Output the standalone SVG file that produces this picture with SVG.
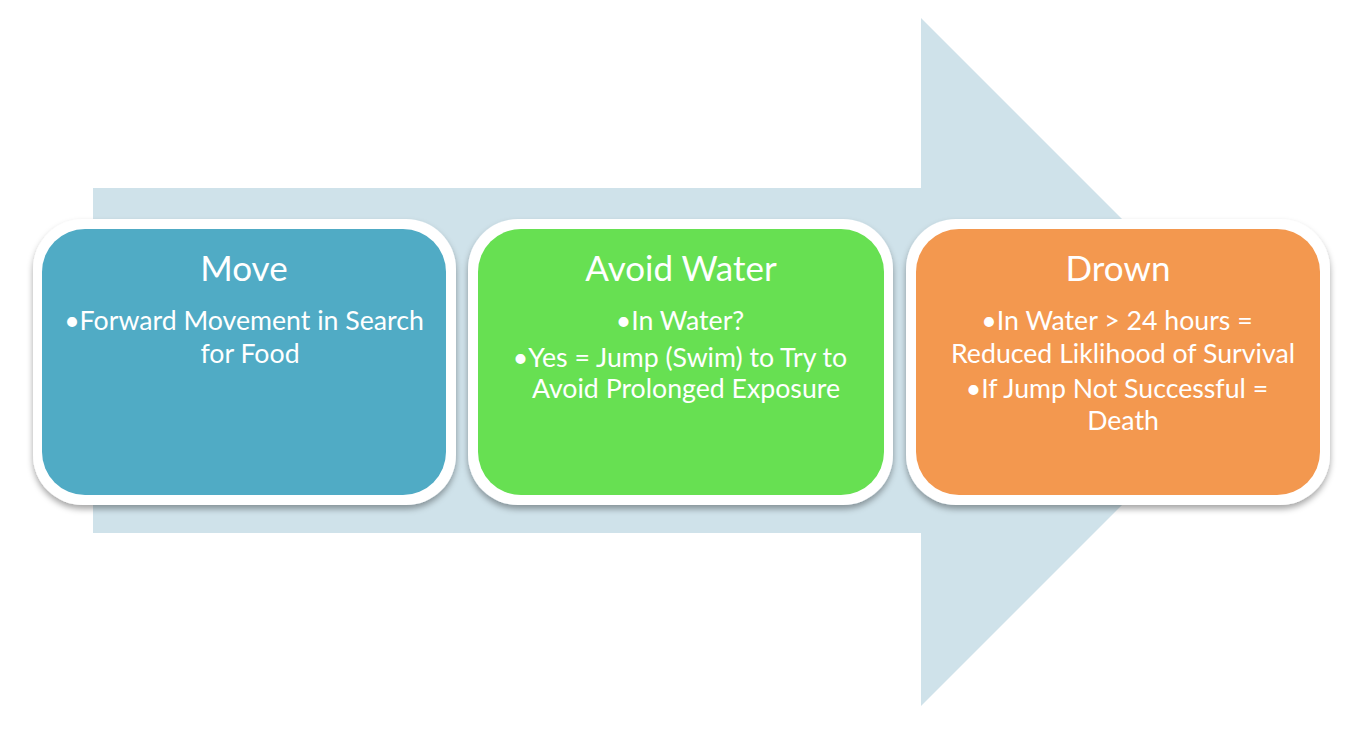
<svg xmlns="http://www.w3.org/2000/svg" width="1358" height="732" viewBox="0 0 1358 732">
<defs>
<filter id="sh" x="-10%" y="-10%" width="120%" height="130%">
<feDropShadow dx="0" dy="4" stdDeviation="3" flood-color="#000" flood-opacity="0.35"/>
</filter>
</defs>
<style>
.outer{fill:#fff;filter:url(#sh)}
.title{font-family:Lato,"Open Sans",sans-serif;font-size:35px;fill:#fff;text-anchor:middle}
.body{font-family:Lato,"Open Sans",sans-serif;font-size:26.7px;fill:#fff;text-anchor:middle}
</style>
<rect width="1358" height="732" fill="#fff"/>
<g id="arrow">
<polygon points="93,188 921,188 921,18 1265,362 921,706 921,533 93,533" fill="#cfe2ea"/>
</g>
<g id="move">
<rect class="outer" x="33" y="219" width="423" height="286" rx="50"/>
<rect x="42" y="229" width="404" height="266" rx="43" fill="#50abc5"/>
<text class="title" x="244" y="281">Move</text>
<text class="body" x="244" y="330">•Forward Movement in Search</text>
<text class="body" x="250" y="363">for Food</text>
</g>
<g id="avoid">
<rect class="outer" x="468" y="219" width="425" height="286" rx="50"/>
<rect x="478" y="229" width="406" height="266" rx="43" fill="#67e052"/>
<text class="title" x="681" y="281">Avoid Water</text>
<text class="body" x="680" y="330">•In Water?</text>
<text class="body" x="680" y="367">•Yes = Jump (Swim) to Try to</text>
<text class="body" x="686" y="398">Avoid Prolonged Exposure</text>
</g>
<g id="drown">
<rect class="outer" x="906" y="219" width="424" height="286" rx="50"/>
<rect x="916" y="229" width="404" height="266" rx="43" fill="#f3984f"/>
<text class="title" x="1118" y="281">Drown</text>
<text class="body" x="1117" y="330">•In Water &gt; 24 hours =</text>
<text class="body" x="1123" y="363">Reduced Liklihood of Survival</text>
<text class="body" x="1117" y="398">•If Jump Not Successful =</text>
<text class="body" x="1123" y="430">Death</text>
</g>
<g id="connectors"/>
</svg>
